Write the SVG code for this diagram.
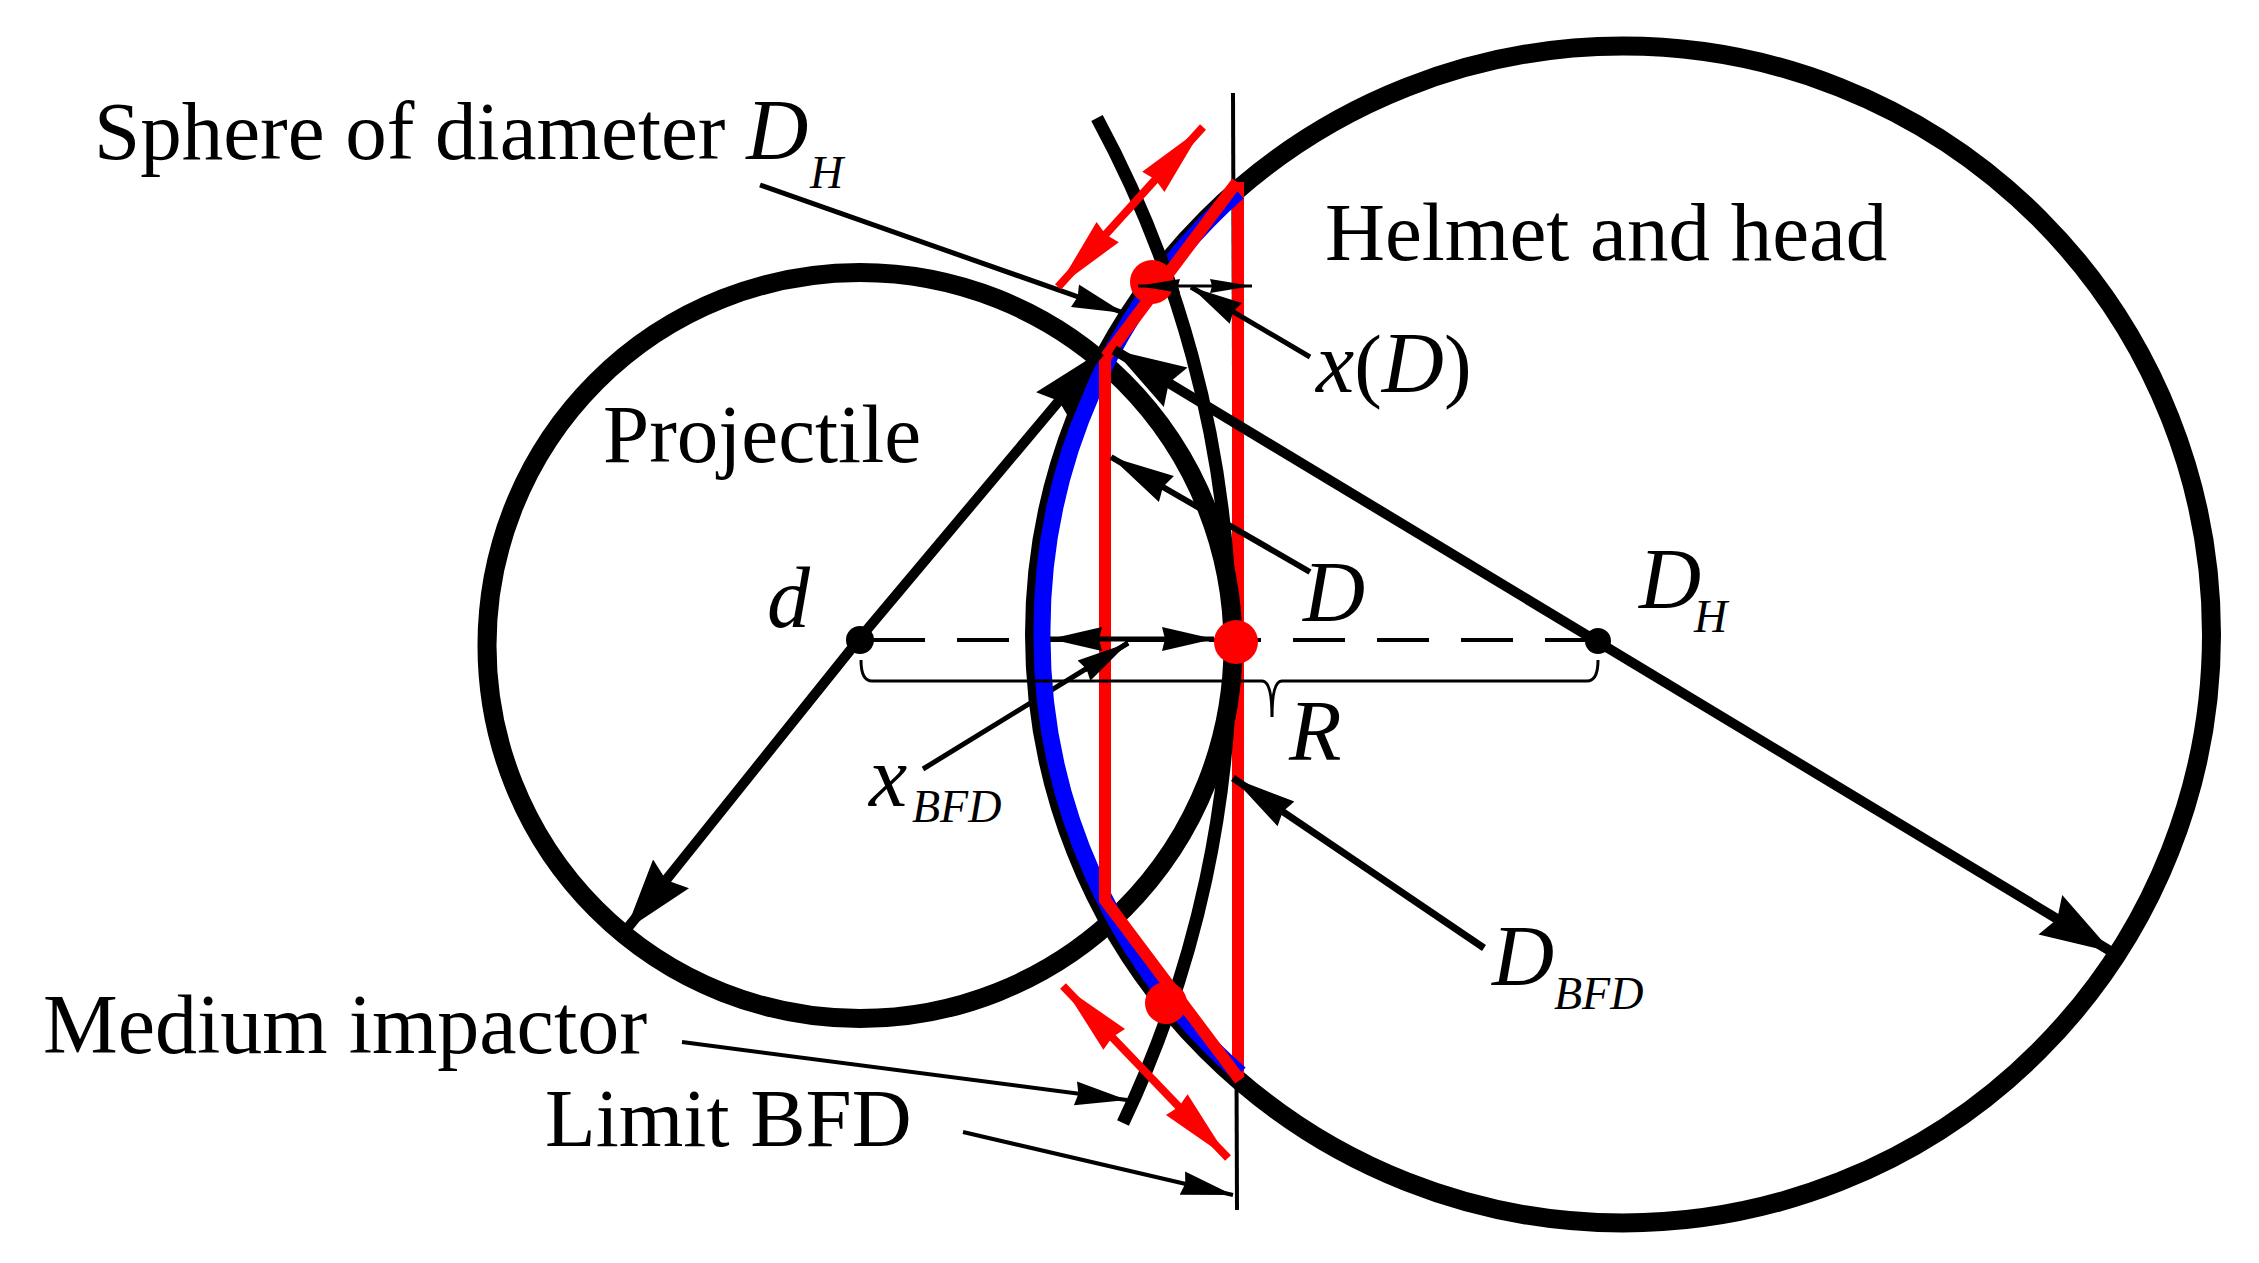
<svg xmlns="http://www.w3.org/2000/svg" width="2259" height="1263" viewBox="0 0 2259 1263">
<style>
.t{font-family:"Liberation Serif","Times New Roman",serif;font-size:83px;fill:#000}
.i{font-style:italic;font-size:86px}
.s{font-style:italic;font-size:46px}
.big{fill:none;stroke:#000;stroke-width:19}
.ln{fill:none;stroke:#000;stroke-linecap:butt}
.red{fill:none;stroke:#f00;stroke-width:12}
.dot{fill:#f00}
</style>
<defs>
<marker id="aL" markerUnits="userSpaceOnUse" markerWidth="74" markerHeight="50" viewBox="0 0 74 50" refX="72" refY="25" orient="auto-start-reverse"><path d="M72 25L0 2L8 25L0 48Z" fill="#000"/></marker>
<marker id="aB" markerUnits="userSpaceOnUse" markerWidth="66" markerHeight="32" viewBox="0 0 66 32" refX="64" refY="16" orient="auto-start-reverse"><path d="M64 16L0 1L4 16L0 31Z" fill="#000"/></marker>
<marker id="aM" markerUnits="userSpaceOnUse" markerWidth="54" markerHeight="26" viewBox="0 0 54 26" refX="52" refY="13" orient="auto-start-reverse"><path d="M52 13L0 1L3 13L0 25Z" fill="#000"/></marker>
<marker id="aS" markerUnits="userSpaceOnUse" markerWidth="44" markerHeight="16" viewBox="0 0 44 16" refX="42" refY="8" orient="auto-start-reverse"><path d="M42 8L0 1L2 8L0 15Z" fill="#000"/></marker>
<marker id="aR" markerUnits="userSpaceOnUse" markerWidth="76" markerHeight="32" viewBox="0 0 76 32" refX="74" refY="16" orient="auto-start-reverse"><path d="M74 16L0 1L3 16L0 31Z" fill="#f00"/></marker>
</defs>

<g id="helmet-circle"><circle class="big" cx="1623" cy="634.5" r="588.5"/></g>
<g id="limit-line"><path d="M1233 93L1237 1210" stroke="#000" stroke-width="4" fill="none"/></g>
<g id="red-limit"><path class="red" d="M1238 182V1075"/></g>
<g id="projectile-circle"><circle class="big" cx="860" cy="645.5" r="373"/></g>
<g id="connectors-under">
<path class="ln" stroke-width="4" stroke-dasharray="52 32" d="M873 640H1598"/>
<path class="ln" stroke-width="5" d="M923 769L1128 643"/>
</g>
<g id="blue-arc"><path d="M1238 192A588 588 0 0 0 1042 634A582 582 0 0 0 1240 1074" fill="none" stroke="#00f" stroke-width="17"/></g>
<g id="impactor-arc"><path d="M1097 118A1110 1110 0 0 1 1123 1123" fill="none" stroke="#000" stroke-width="13"/></g>
<g id="red-profile"><path class="red" d="M1237 182L1105 358V900L1240 1080"/></g>

<g id="points">
<circle cx="860" cy="640" r="14"/>
<circle cx="1598" cy="641" r="13"/>
<circle class="dot" cx="1152" cy="282" r="22"/>
<circle class="dot" cx="1166" cy="1003" r="21"/>
</g>

<g id="connectors">
<path class="ln" stroke-width="3" d="M861 660Q861 681 872 681H1262Q1272 681 1272 717Q1272 681 1282 681H1587Q1598 681 1598 660"/>
<path class="ln" stroke-width="10" marker-start="url(#aL)" marker-end="url(#aL)" d="M626 930L860 638L1100 352"/>
<path class="ln" stroke-width="10" marker-start="url(#aL)" marker-end="url(#aL)" d="M1114 350L2112 952"/>
<path class="ln" stroke-width="6" marker-end="url(#aB)" d="M1310 572L1111 457"/>
<path class="ln" stroke-width="7" marker-end="url(#aB)" d="M1484 948L1233 778"/>
<path class="ln" stroke-width="5" marker-end="url(#aM)" d="M1310 357L1191 287"/>
<path class="ln" stroke-width="3" marker-start="url(#aS)" marker-end="url(#aS)" d="M1138 286H1252"/>
<path class="ln" stroke-width="5" marker-end="url(#aM)" d="M760 185L1124 313"/>
<path class="ln" stroke-width="5" marker-start="url(#aM)" marker-end="url(#aM)" d="M1050 639H1214"/>
<path class="ln" stroke-width="5" marker-end="url(#aM)" d="M1085 670L1128 643"/>
<path class="ln" stroke-width="4" marker-end="url(#aM)" d="M682 1042L1127 1100"/>
<path class="ln" stroke-width="4" marker-end="url(#aM)" d="M963 1132L1233 1195"/>
<path fill="none" stroke="#f00" stroke-width="8" marker-start="url(#aR)" marker-end="url(#aR)" d="M1203 127L1058 287"/>
<path fill="none" stroke="#f00" stroke-width="8" marker-start="url(#aR)" marker-end="url(#aR)" d="M1063 986L1228 1158"/>
</g>

<g id="point-center"><circle class="dot" cx="1236" cy="642" r="22"/></g>

<g id="label-sphere"><text class="t" x="94" y="159">Sphere of diameter <tspan class="i">D</tspan></text><text class="t s" x="810" y="188">H</text></g>
<g id="label-helmet"><text class="t" x="1325" y="260">Helmet and head</text></g>
<g id="label-projectile"><text class="t" x="603" y="462">Projectile</text></g>
<g id="label-d"><text class="t i" x="767" y="627">d</text></g>
<g id="label-D"><text class="t i" x="1303" y="621">D</text></g>
<g id="label-DH"><text class="t i" x="1639" y="608">D</text><text class="t s" x="1694" y="632">H</text></g>
<g id="label-xD"><text class="t" x="1316" y="392"><tspan class="i">x</tspan>(<tspan class="i">D</tspan>)</text></g>
<g id="label-xBFD"><text class="t i" x="869" y="806">x</text><text class="t s" x="912" y="822">BFD</text></g>
<g id="label-R"><text class="t i" x="1289" y="760">R</text></g>
<g id="label-DBFD"><text class="t i" x="1492" y="985">D</text><text class="t s" x="1554" y="1009">BFD</text></g>
<g id="label-medium"><text class="t" x="43" y="1053" style="font-size:84px">Medium impactor</text></g>
<g id="label-limit"><text class="t" x="545" y="1146">Limit BFD</text></g>
</svg>
